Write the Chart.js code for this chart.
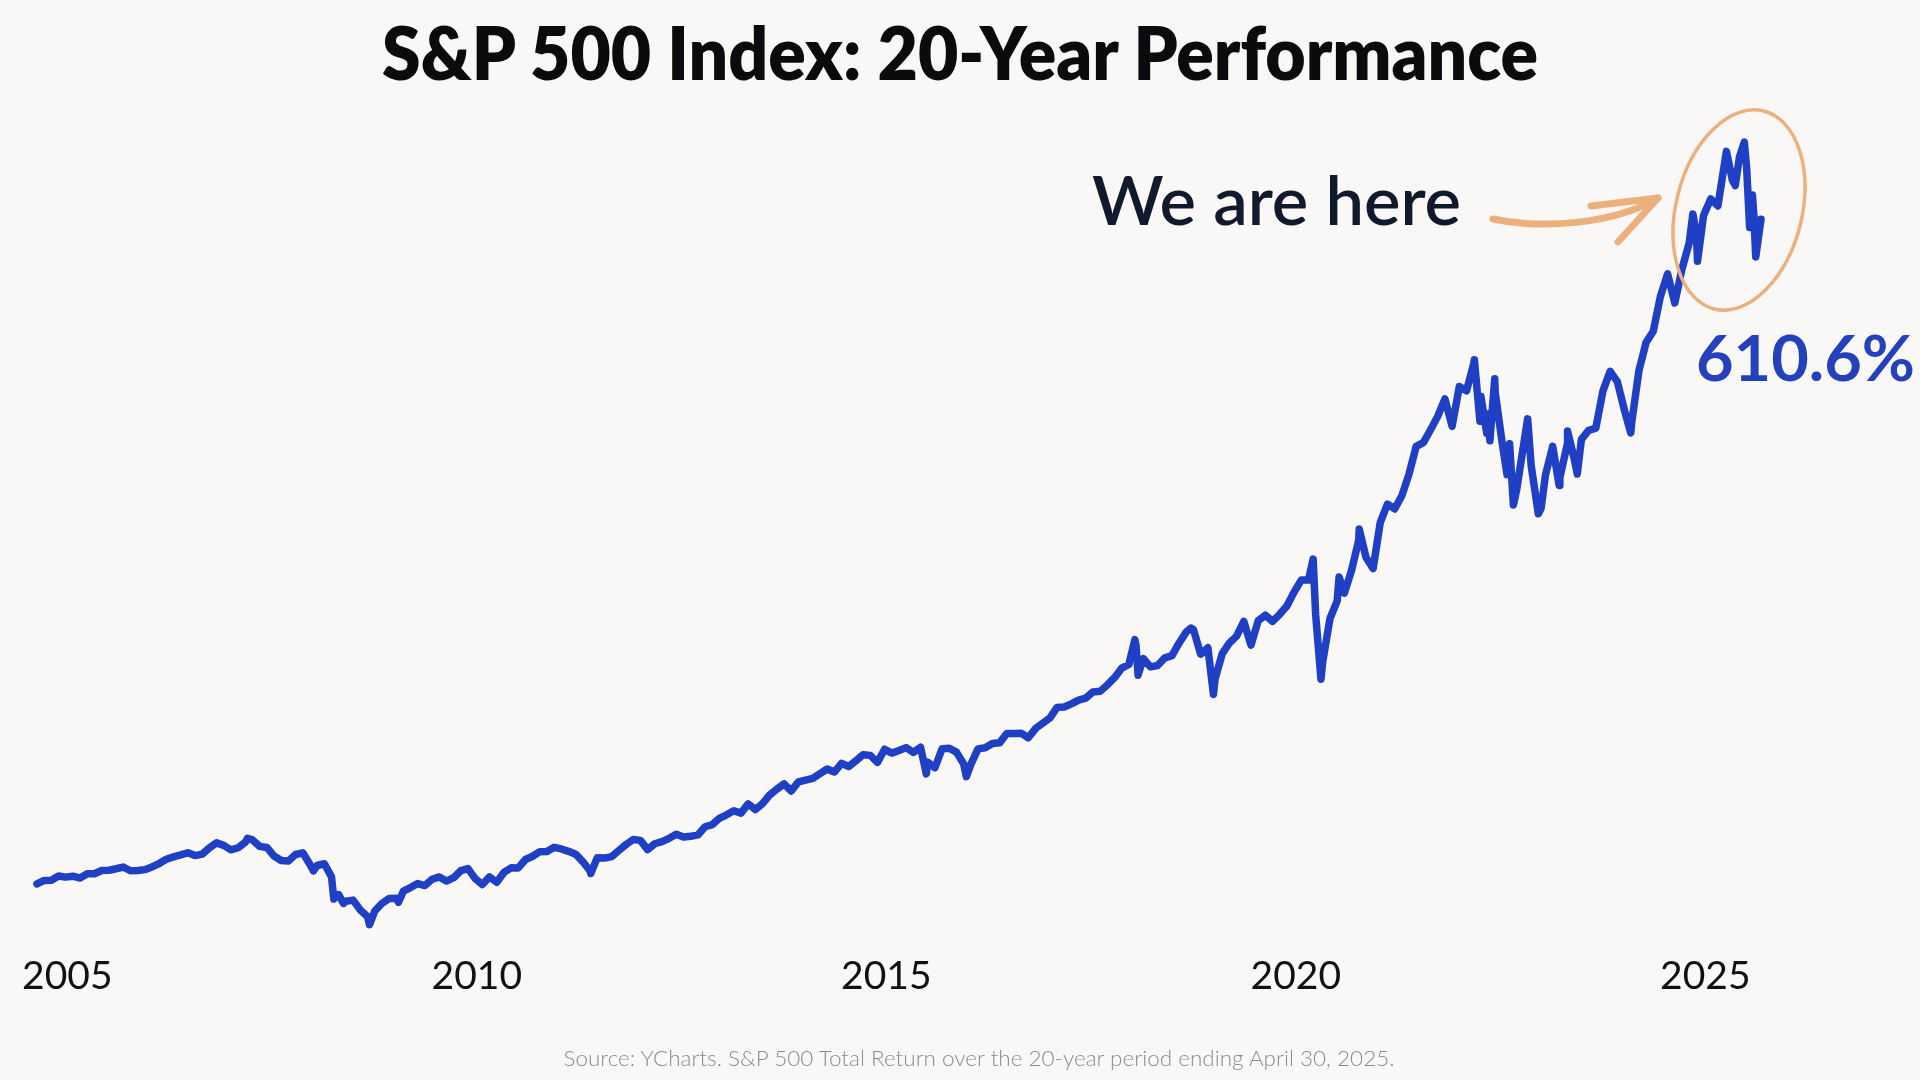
<!DOCTYPE html>
<html>
<head>
<meta charset="utf-8">
<title>S&amp;P 500 Index: 20-Year Performance</title>
<script src="https://cdn.jsdelivr.net/npm/chart.js@4.4.1/dist/chart.umd.min.js"></script>
<style>
  html, body { margin: 0; padding: 0; background: #faf8f6; }
  #wrap { position: relative; width: 1920px; height: 1080px; overflow: hidden; }
  #chart { position: absolute; left: 0; top: 0; }
  #overlay { position: absolute; left: 0; top: 0; pointer-events: none; }
</style>
</head>
<body>
<div id="wrap">
  <canvas id="chart" width="1920" height="1080"></canvas>
  <svg id="overlay" width="1920" height="1080" viewBox="0 0 1920 1080">
    <text x="960" y="80" text-anchor="middle" font-family="Lato" font-weight="800" font-size="73"
          fill="#0b0b0d" textLength="1156" lengthAdjust="spacingAndGlyphs">S&amp;P 500 Index: 20-Year Performance</text>
    <text x="1092" y="225" font-family="Lato" font-weight="600" font-size="67"
          fill="#111a2c" textLength="369" lengthAdjust="spacingAndGlyphs">We are here</text>
    <text x="1696" y="381" font-family="Lato" font-weight="700" font-size="63"
          fill="#2341bd" textLength="219" lengthAdjust="spacingAndGlyphs">610.6%</text>
    <text x="979" y="1066" text-anchor="middle" font-family="Lato" font-weight="300" font-size="22"
          fill="#8c8c8c" textLength="831" lengthAdjust="spacingAndGlyphs">Source: YCharts. S&amp;P 500 Total Return over the 20-year period ending April 30, 2025.</text>
    <!-- hand drawn arrow + circle -->
    <g fill="none" stroke="#ecb07c" stroke-linecap="round" stroke-linejoin="round">
      <path d="M1493 219 C1540 229, 1612 225, 1658 198" stroke-width="7"/>
      <path d="M1591 206 L1658 198 L1618 242" stroke-width="7"/>
      <ellipse cx="1739" cy="210" rx="63" ry="102" transform="rotate(14 1739 210)" stroke-width="3.5"/>
    </g>
  </svg>
</div>
<script>
// ---------- Data (S&P 500 total return, % since 30 Apr 2005) ----------
// 'YYYY-MM' = month end, 'YYYY-MM-DD' = notable intra-month turn
const dates = [
  '2005-04','2005-05','2005-06','2005-07','2005-08','2005-09','2005-10','2005-11','2005-12',
  '2006-01','2006-02','2006-03','2006-04','2006-05','2006-06','2006-07','2006-08','2006-09','2006-10','2006-11','2006-12',
  '2007-01','2007-02','2007-03','2007-04','2007-05','2007-06','2007-07','2007-08','2007-09','2007-10-09','2007-10','2007-11','2007-12',
  '2008-01','2008-02','2008-03','2008-04','2008-05','2008-06','2008-07-15','2008-07','2008-08','2008-09','2008-10-10','2008-10','2008-11-20','2008-11','2008-12',
  '2009-01','2009-02','2009-03-09','2009-03','2009-04','2009-05','2009-06','2009-07-10','2009-07','2009-08','2009-09','2009-10','2009-11','2009-12',
  '2010-01','2010-02','2010-03','2010-04','2010-05','2010-06','2010-07','2010-08','2010-09','2010-10','2010-11','2010-12',
  '2011-01','2011-02','2011-03','2011-04','2011-05','2011-06','2011-07','2011-08','2011-09','2011-10-03','2011-10','2011-11','2011-12',
  '2012-01','2012-02','2012-03','2012-04','2012-05','2012-06','2012-07','2012-08','2012-09','2012-10','2012-11','2012-12',
  '2013-01','2013-02','2013-03','2013-04','2013-05','2013-06','2013-07','2013-08','2013-09','2013-10','2013-11','2013-12',
  '2014-01','2014-02','2014-03','2014-04','2014-05','2014-06','2014-07','2014-08','2014-09','2014-10','2014-11','2014-12',
  '2015-01','2015-02','2015-03','2015-04','2015-05','2015-06','2015-07','2015-08-25','2015-08','2015-09','2015-10','2015-11','2015-12',
  '2016-01','2016-02-11','2016-02','2016-03','2016-04','2016-05','2016-06','2016-07','2016-08','2016-09','2016-10','2016-11','2016-12',
  '2017-01','2017-02','2017-03','2017-04','2017-05','2017-06','2017-07','2017-08','2017-09','2017-10','2017-11','2017-12',
  '2018-01-26','2018-01','2018-02-08','2018-02','2018-03','2018-04','2018-05','2018-06','2018-07','2018-08','2018-09-20','2018-09','2018-10','2018-11','2018-12-24','2018-12',
  '2019-01','2019-02','2019-03','2019-04','2019-05','2019-06','2019-07','2019-08','2019-09','2019-10','2019-11','2019-12',
  '2020-01','2020-02-19','2020-02','2020-03-23','2020-03','2020-04','2020-05','2020-06-08','2020-06','2020-07','2020-08','2020-09-02','2020-09','2020-10','2020-11','2020-12',
  '2021-01','2021-02','2021-03','2021-04','2021-05','2021-06','2021-07','2021-08','2021-09','2021-10','2021-11','2021-12',
  '2022-01-03','2022-01-27','2022-01','2022-02-23','2022-02','2022-03-08','2022-03-29','2022-03','2022-04','2022-05-20','2022-05','2022-06-16','2022-06',
  '2022-07','2022-08-16','2022-08','2022-09','2022-10-12','2022-10','2022-11','2022-12-28','2022-12',
  '2023-01','2023-02-02','2023-02','2023-03-13','2023-03','2023-04','2023-05','2023-06','2023-07','2023-08','2023-09','2023-10-27','2023-10','2023-11','2023-12',
  '2024-01','2024-02','2024-03','2024-04','2024-05','2024-06','2024-07-16','2024-07','2024-08-05','2024-08','2024-09','2024-10','2024-11','2024-12-06','2024-12',
  '2025-01-13','2025-01','2025-02-19','2025-02','2025-03-13','2025-03-25','2025-03','2025-04-08','2025-04'
];
const totalReturn = [
  0.0, 3.1, 3.3, 7.2, 6.1, 7.0, 5.3, 9.2, 9.2,
  12.2, 12.4, 13.8, 15.4, 12.0, 12.2, 13.0, 15.5, 18.6, 22.5, 24.7, 26.5,
  28.5, 25.9, 27.3, 33.0, 37.6, 35.3, 31.2, 33.1, 38.1, 41.7, 40.3, 34.4, 33.4,
  25.5, 21.4, 20.9, 26.9, 28.5, 17.7, 11.8, 16.8, 18.4, 6.4, -14.0, -10.0, -18.0, -16.0, -15.0,
  -24.0, -30.0, -37.5, -25.3, -18.1, -13.6, -13.4, -17.0, -6.8, -3.5, 0.2, -1.6, 4.2, 6.3,
  2.5, 5.6, 12.0, 13.9, 4.7, -0.7, 6.3, 1.4, 10.4, 14.7, 14.6, 22.3,
  25.3, 29.5, 29.6, 33.5, 32.0, 29.8, 27.2, 20.2, 11.8, 9.5, 24.0, 23.6, 24.9,
  30.6, 36.1, 40.7, 39.9, 31.4, 36.8, 38.8, 41.8, 45.5, 42.9, 43.6, 44.9,
  52.4, 54.4, 60.2, 63.4, 67.1, 64.9, 73.4, 68.2, 73.6, 81.6, 87.0, 91.8,
  85.3, 93.6, 95.3, 96.8, 101.3, 105.5, 102.7, 110.7, 107.8, 113.0, 118.6, 118.0,
  111.6, 123.6, 120.1, 122.4, 125.1, 120.8, 125.5, 101.0, 111.8, 106.6, 124.1, 124.6, 121.0,
  110.2, 98.4, 109.7, 124.0, 125.0, 128.9, 129.5, 138.1, 138.2, 138.4, 134.2, 142.6, 147.5,
  152.3, 162.1, 162.5, 165.3, 168.8, 170.6, 176.3, 176.9, 182.7, 189.4, 198.1, 201.5,
  224.3, 219.0, 191.7, 207.0, 199.3, 200.6, 207.6, 209.6, 221.3, 231.5, 235.0, 233.5, 210.9, 216.9, 174.0, 188.3,
  211.5, 221.3, 227.6, 241.1, 219.2, 241.7, 246.8, 241.1, 247.6, 255.2, 268.0, 279.1,
  279.1, 298.3, 247.7, 188.0, 204.7, 243.8, 260.0, 282.0, 267.1, 288.0, 315.8, 326.0, 300.1, 289.6, 332.1, 348.8,
  344.4, 356.5, 376.5, 402.0, 405.4, 417.2, 429.6, 445.6, 420.3, 456.9, 452.9, 477.7,
  481.5, 425.0, 448.1, 414.0, 431.6, 407.0, 464.0, 451.4, 403.6, 376.0, 404.3, 348.0, 362.6,
  405.4, 427.2, 384.6, 340.0, 345.0, 375.8, 402.0, 366.0, 373.1,
  403.0, 416.0, 390.5, 376.5, 408.4, 416.6, 418.6, 452.9, 470.9, 461.5, 434.9, 414.3, 423.9, 471.3, 497.4,
  507.7, 539.8, 560.4, 533.7, 564.9, 588.7, 615.5, 597.3, 572.0, 614.0, 629.3, 622.9, 665.2, 673.0, 646.9,
  641.6, 667.9, 681.5, 657.8, 603.0, 633.0, 615.0, 576.0, 610.6
];
const tickYears = [2005, 2010, 2015, 2020, 2025];

// ---------- Helpers ----------
function toYear(s){
  const p = s.split('-').map(Number);
  if(p.length === 2) return p[0] + p[1] / 12;            // month end
  const days = new Date(p[0], p[1], 0).getDate();
  return p[0] + (p[1] - 1) / 12 + p[2] / (12 * days);
}

const points = dates.map((d, i) => ({ x: toYear(d), y: totalReturn[i] }));

// ---------- Chart ----------
const ctx = document.getElementById('chart').getContext('2d');
new Chart(ctx, {
  type: 'line',
  data: {
    datasets: [{
      data: points,
      borderColor: '#1f3fc4',
      borderWidth: 7.5,
      borderJoinStyle: 'round',
      borderCapStyle: 'round',
      pointRadius: 0,
      tension: 0,
      fill: false,
      clip: false
    }]
  },
  options: {
    responsive: false,
    animation: false,
    layout: { padding: { top: 122, bottom: 65, left: 37, right: 159 } },
    plugins: { legend: { display: false }, tooltip: { enabled: false } },
    scales: {
      x: { type: 'linear', min: toYear(dates[0]), max: toYear(dates[dates.length - 1]), display: false },
      years: {
        type: 'linear', position: 'bottom',
        min: 2004.63, max: 2025.68,
        grid: { display: false, drawTicks: false },
        border: { display: false },
        afterBuildTicks: s => { s.ticks = tickYears.map(v => ({ value: v })); },
        ticks: {
          padding: 15,
          color: '#111111',
          font: { family: 'Lato', size: 39 },
          callback: v => String(v)
        }
      },
      y: { min: -50, max: 700, display: false }
    }
  }
});
</script>
</body>
</html>
